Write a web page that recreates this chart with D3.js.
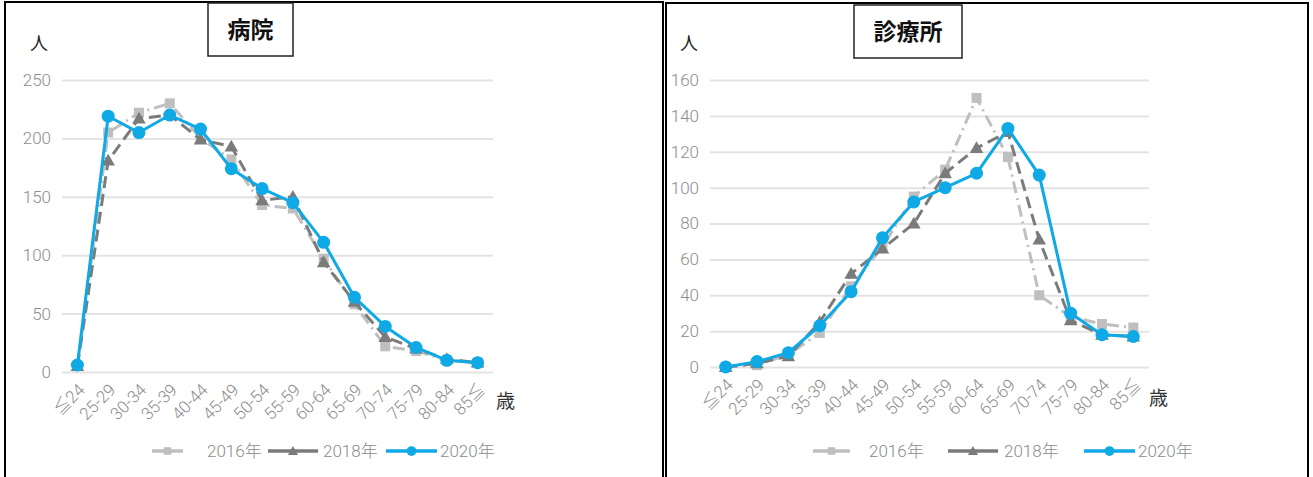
<!DOCTYPE html>
<html lang="ja">
<head>
<meta charset="utf-8">
<script src="https://cdn.jsdelivr.net/npm/d3@7"></script>
<style>
  html, body { margin: 0; padding: 0; background: #fff; }
  svg { display: block; }
  text { font-family: "Noto Sans CJK JP", "Noto Sans", sans-serif; }
  .num { font-family: Roboto, "Noto Sans CJK JP", sans-serif; font-weight: 300; }
</style>
</head>
<body>
<svg id="chart" width="1313" height="477"></svg>
<script>
// Age groups shared by both panels
const ageGroups = ["≦24", "25-29", "30-34", "35-39", "40-44", "45-49", "50-54",
                   "55-59", "60-64", "65-69", "70-74", "75-79", "80-84", "85≦"];
const seriesNames = ["2016年", "2018年", "2020年"];

// 病院 (hospitals), persons per age group
const hospitalTicks = [0, 50, 100, 150, 200, 250];
const hospital2016 = [5, 205, 222, 230, 200, 182, 143, 140, 97, 58, 22, 18, 10, 8];
const hospital2018 = [5, 181, 217, 220, 199, 193, 147, 150, 94, 60, 30, 20, 11, 8];
const hospital2020 = [6, 219, 205, 220, 208, 174, 157, 145, 111, 64, 39, 21, 10, 8];

// 診療所 (clinics), persons per age group
const clinicTicks = [0, 20, 40, 60, 80, 100, 120, 140, 160];
const clinic2016 = [0, 1, 7, 19, 45, 67, 95, 110, 150, 117, 40, 28, 24, 22];
const clinic2018 = [0, 2, 6, 25, 52, 66, 80, 108, 122, 131, 71, 26, 18, 17];
const clinic2020 = [0, 3, 8, 23, 42, 72, 92, 100, 108, 133, 107, 30, 18, 17];

const svg = d3.select("#chart");

const styles = [
  { color: "#bfbfbf", width: 3, dash: "12,5,2,5", marker: "square" },
  { color: "#7b7b7b", width: 3, dash: "12,6", marker: "triangle" },
  { color: "#0fa9e6", width: 3, dash: null, marker: "circle" }
];

function drawPanel(cfg) {
  const g = svg.append("g");

  // panel frame
  g.append("path")
    .attr("d", `M${cfg.frame[0]},${cfg.frame[3]} V${cfg.frame[1]} H${cfg.frame[2]} V${cfg.frame[3]}`)
    .attr("fill", "none").attr("stroke", "#000").attr("stroke-width", 2);

  // title box
  const tb = cfg.titleBox;
  g.append("rect").attr("x", tb[0]).attr("y", tb[1]).attr("width", tb[2]).attr("height", tb[3])
    .attr("fill", "#fff").attr("stroke", "#222").attr("stroke-width", 1.5);
  g.append("text").attr("x", tb[0] + tb[2] / 2).attr("y", tb[1] + tb[3] / 2 + 8)
    .attr("text-anchor", "middle").attr("font-size", 23).attr("font-weight", 700)
    .attr("fill", "#111").text(cfg.title);

  const x = d3.scalePoint().domain(ageGroups).range([cfg.plot[0], cfg.plot[1]]).padding(0.5);
  const y = d3.scaleLinear().domain([0, d3.max(cfg.ticks)]).range([cfg.plot[3], cfg.plot[2]]);

  // gridlines + y labels
  const yAxis = d3.axisLeft(y).tickValues(cfg.ticks).tickSize(-(cfg.plot[1] - cfg.plot[0])).tickPadding(11);
  const ya = g.append("g").attr("transform", `translate(${cfg.plot[0]},0)`).call(yAxis);
  ya.select(".domain").remove();
  ya.selectAll("line").attr("stroke", "#e3e3e3").attr("stroke-width", 2);
  ya.selectAll("text").attr("class", "num").attr("font-size", 17).attr("fill", "#8c8c8c");

  // x labels, rotated
  const xAxis = d3.axisBottom(x).tickSize(0).tickPadding(0);
  const xa = g.append("g").attr("transform", `translate(0,${cfg.plot[3]})`).call(xAxis);
  xa.select(".domain").remove();
  xa.selectAll("text")
    .attr("class", "num").attr("font-size", 17).attr("fill", "#8c8c8c")
    .attr("text-anchor", "end").attr("dy", null)
    .attr("transform", "translate(8,19) rotate(-45)");

  // unit labels
  g.append("text").attr("x", cfg.unitY[0]).attr("y", cfg.unitY[1])
    .attr("font-size", 18).attr("fill", "#222").text("人");
  g.append("text").attr("x", cfg.unitX[0]).attr("y", cfg.unitX[1])
    .attr("font-size", 19).attr("fill", "#333").text("歳");

  const line = d3.line().x((d, i) => x(ageGroups[i])).y(d => y(d));

  cfg.series.forEach((vals, si) => {
    const st = styles[si];
    const sg = g.append("g");
    sg.append("path").datum(vals).attr("d", line)
      .attr("fill", "none").attr("stroke", st.color).attr("stroke-width", st.width)
      .attr("stroke-dasharray", st.dash).attr("stroke-linejoin", "round");
    drawMarkers(sg, vals.map((v, i) => [x(ageGroups[i]), y(v)]), st);
  });

  // legend
  const lg = g.append("g");
  cfg.legend.forEach((pos, si) => {
    const st = styles[si];
    const ly = cfg.legendY;
    lg.append("line").attr("x1", pos[0]).attr("x2", pos[1]).attr("y1", ly).attr("y2", ly)
      .attr("stroke", st.color).attr("stroke-width", 3.5);
    drawMarkers(lg, [[(pos[0] + pos[1]) / 2, ly]], st, 0.75);
    lg.append("text").attr("class", "num").attr("x", pos[2]).attr("y", ly + 6).attr("font-size", 17)
      .attr("fill", "#8c8c8c")
      .text(seriesNames[si]);
  });
}

function drawMarkers(sel, pts, st, k = 1) {
  if (st.marker === "circle") {
    sel.selectAll(null).data(pts).enter().append("circle")
      .attr("cx", d => d[0]).attr("cy", d => d[1]).attr("r", 6.5 * k).attr("fill", st.color);
  } else if (st.marker === "square") {
    const s = 10 * k;
    sel.selectAll(null).data(pts).enter().append("rect")
      .attr("x", d => d[0] - s / 2).attr("y", d => d[1] - s / 2)
      .attr("width", s).attr("height", s).attr("fill", st.color);
  } else {
    const tri = d3.symbol().type(d3.symbolTriangle).size(80 * k * k);
    sel.selectAll(null).data(pts).enter().append("path")
      .attr("d", tri).attr("transform", d => `translate(${d[0]},${d[1] + 1})`)
      .attr("fill", st.color);
  }
}

drawPanel({
  title: "病院",
  frame: [5, 2, 663, 477],
  titleBox: [208, 3, 85, 53],
  plot: [62, 493, 80, 372],
  ticks: hospitalTicks,
  series: [hospital2016, hospital2018, hospital2020],
  unitY: [30, 50],
  unitX: [496, 408],
  legendY: 451,
  legend: [[152, 183, 207], [268, 318, 323], [386, 437, 440]]
});

drawPanel({
  title: "診療所",
  frame: [666, 3, 1308, 477],
  titleBox: [854, 5, 108, 53],
  plot: [710, 1149, 80, 367],
  ticks: clinicTicks,
  series: [clinic2016, clinic2018, clinic2020],
  unitY: [680, 50],
  unitX: [1149, 405],
  legendY: 451,
  legend: [[813, 850, 869], [948, 998, 1004], [1084, 1135, 1138]]
});
</script>
</body>
</html>
